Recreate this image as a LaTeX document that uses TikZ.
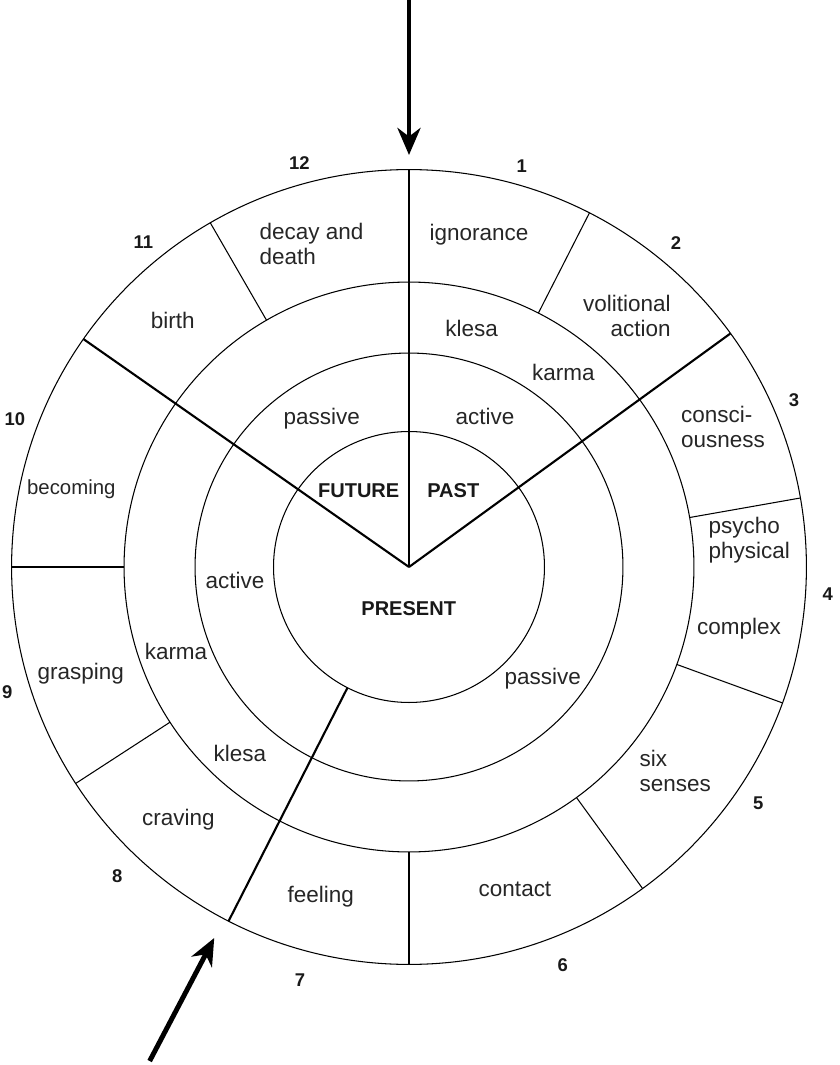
\documentclass[tikz,border=0pt]{standalone}
\usepackage{fontspec}
\setmainfont{Liberation Sans}
\usetikzlibrary{arrows.meta}
\begin{document}
\begin{tikzpicture}[x=0.02cm,y=0.02cm,
  ring/.style={circle,draw,line width=0.6pt,inner sep=0pt,outer sep=0pt},
  thinsep/.style={line width=0.6pt},
  major/.style={line width=1.2pt},
  lbl/.style={font=\fontsize{12.8}{14.2}\selectfont,inner sep=0pt,text=black!85},
  smalllbl/.style={font=\fontsize{11.6}{13}\selectfont,inner sep=0pt,text=black!85},
  num/.style={font=\fontsize{10.5}{12}\selectfont\bfseries,inner sep=0pt,text=black!90},
  era/.style={font=\fontsize{11.4}{13}\selectfont\bfseries,inner sep=0pt,text=black!90},
  bigarrow/.style={line width=2.8pt,-{Stealth[length=0.54cm,width=0.46cm,inset=0.17cm]}}
]
\useasboundingbox (-409,-498) rectangle (430,567);

% rings
\node[ring,minimum size=15.9cm] (outer) at (0,0) {};
\node[ring,minimum size=11.4cm] (mid) at (0,0) {};
\node[ring,minimum size=8.56cm] (ring3) at (0,0) {};
\node[ring,minimum size=5.42cm] (inner) at (0,0) {};
\coordinate (O) at (0,0);

% major divisions
\draw[major] (O) -- (outer.90);
\draw[major] (O) -- (outer.36);
\draw[major] (O) -- (outer.145.5);
\draw[major] (inner.243) -- (outer.243);

% thin separators of the outer ring
\foreach \a in {63,10.5,-20,-54,-90,213.5,180,120}
  \draw[thinsep] (mid.\a) -- (outer.\a);

% arrows
\coordinate (topTail) at (0,567);
\coordinate (topTip) at (0,412);
\draw[bigarrow] (topTail) -- (topTip);
\coordinate (lowTail) at (242.3:558);
\coordinate (lowTip) at (242.3:419);
\draw[bigarrow] (lowTail) -- (lowTip);

% centre
\node[era] (future) at (-50.3,76) {FUTURE};
\node[era] (past) at (44.3,76) {PAST};
\node[era] (present) at (-0.3,-41.7) {PRESENT};

% inner ring
\node[lbl] (act1) at (76,150.3) {active};
\node[lbl] (pas1) at (-87.3,148.7) {passive};
\node[lbl] (act2) at (-174,-13.7) {active};
\node[lbl] (pas2) at (133.7,-111.3) {passive};

% middle ring
\node[lbl] (kle1) at (62.7,238.7) {klesa};
\node[lbl] (kar1) at (154.3,194.3) {karma};
\node[lbl] (kar2) at (-233,-84.7) {karma};
\node[lbl] (kle2) at (-169,-186.3) {klesa};

% outer ring links
\node[lbl] (l1) at (70,332) {ignorance};
\node[lbl,align=right,anchor=east] (l2) at (262,251) {volitional\\action};
\node[lbl,align=left,anchor=west] (l3) at (271.7,140) {consci-\\ousness};
\node[lbl,align=left,anchor=west] (l4a) at (299.3,26.7) {psycho\\physical};
\node[lbl] (l4b) at (330,-61.3) {complex};
\node[lbl,align=left,anchor=west] (l5) at (230.3,-204.3) {six\\senses};
\node[lbl] (l6) at (106,-322.3) {contact};
\node[lbl] (l7) at (-88.3,-329.7) {feeling};
\node[lbl] (l8) at (-230.7,-253) {craving};
\node[lbl] (l9) at (-328.3,-107) {grasping};
\node[smalllbl] (l10) at (-337.7,78) {becoming};
\node[lbl] (l11) at (-236.3,247) {birth};
\node[lbl,align=left,anchor=west] (l12) at (-149.7,323.3) {decay and\\death};

% numbers
\node[num] (n1) at (112.7,401) {1};
\node[num] (n2) at (267,323.7) {2};
\node[num] (n3) at (385,167) {3};
\node[num] (n4) at (418.7,-27) {4};
\node[num] (n5) at (349.3,-236.3) {5};
\node[num] (n6) at (153.7,-398) {6};
\node[num] (n7) at (-109,-413) {7};
\node[num] (n8) at (-291.7,-309) {8};
\node[num] (n9) at (-401.7,-124.7) {9};
\node[num] (n10) at (-394,147.7) {10};
\node[num] (n11) at (-265.7,325.3) {11};
\node[num] (n12) at (-109.7,403.7) {12};
\end{tikzpicture}
\end{document}
